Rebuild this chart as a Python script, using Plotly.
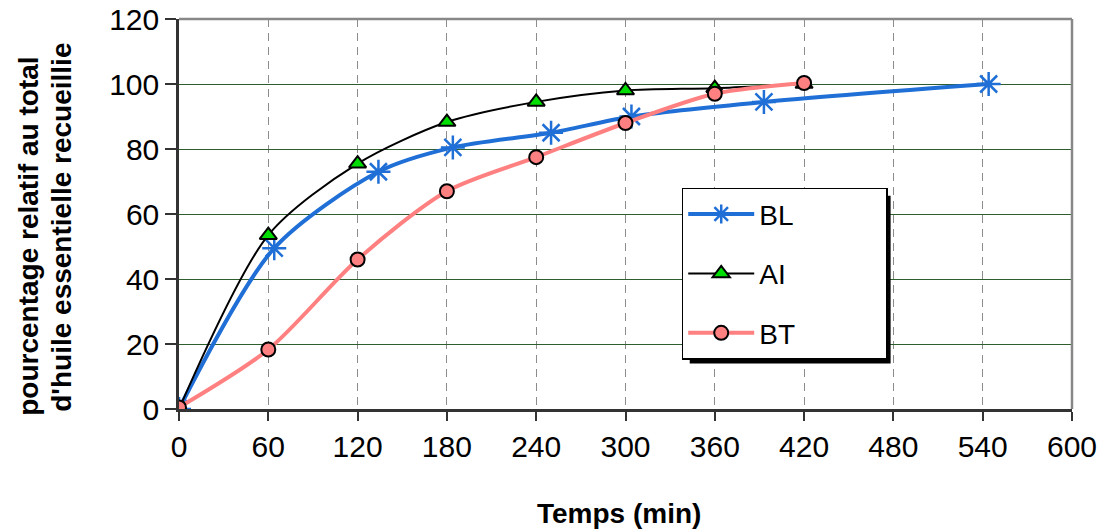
import plotly.graph_objects as go

# Data
bl_t = [0, 64, 134, 184, 250, 304, 393, 544]
bl_v = [0, 49.5, 73, 80.5, 85, 90, 94.5, 100]

ai_t = [0, 60, 120, 180, 240, 300, 360, 420]
ai_v = [0, 53.5, 75.5, 88.3, 94.5, 98, 98.7, 100]

bt_t = [0, 60, 120, 180, 240, 300, 360, 420]
bt_v = [0.5, 18.3, 46, 67, 77.5, 88, 97, 100.3]

x_ticks = [0, 60, 120, 180, 240, 300, 360, 420, 480, 540, 600]
y_ticks = [0, 20, 40, 60, 80, 100, 120]

FONT = "Liberation Sans, Arial, sans-serif"
PAD = "\u00a0" * 11

fig = go.Figure()
fig.add_trace(go.Scatter(
    x=bl_t, y=bl_v, name="BL" + PAD, mode="lines+markers",
    line=dict(color="#1F6FD6", width=4, shape="spline", smoothing=0.8),
    marker=dict(symbol="asterisk-open", size=20, color="#1F6FD6",
                line=dict(color="#1F6FD6", width=2.5)),
    legendgroup="a"))
fig.add_trace(go.Scatter(
    x=ai_t, y=ai_v, name="AI" + PAD, mode="lines+markers",
    line=dict(color="black", width=2, shape="spline", smoothing=0.8),
    marker=dict(symbol="triangle-up", size=15, color="#00DD00",
                line=dict(color="black", width=2)),
    legendgroup="b"))
fig.add_trace(go.Scatter(
    x=bt_t, y=bt_v, name="BT" + PAD, mode="lines+markers",
    line=dict(color="#FF8080", width=4, shape="spline", smoothing=0.8),
    marker=dict(symbol="circle", size=14, color="#FF8080",
                line=dict(color="black", width=2)),
    legendgroup="c"))

W, H = 1105, 530
ml, mr, mt, mb = 179, 32.5, 19, 120.5
pw, ph = W - ml - mr, H - mt - mb

def px_x(p):
    return (p - ml) / pw

def px_y(p):
    return (H - mb - p) / ph

shapes = [
    dict(type="line", xref="paper", yref="paper", x0=0, x1=1, y0=1, y1=1,
         line=dict(color="#888888", width=2.5), layer="above"),
    dict(type="line", xref="paper", yref="paper", x0=1, x1=1, y0=0, y1=1,
         line=dict(color="#888888", width=2.5), layer="above"),
    # legend shadow
    dict(type="rect", xref="paper", yref="paper",
         x0=px_x(690), x1=px_x(891), y0=px_y(364), y1=px_y(196),
         fillcolor="black", line=dict(width=0), layer="above"),
]

annotations = [
    dict(text="<b>Temps (min)</b>", xref="paper", yref="paper",
         x=px_x(619), y=px_y(514), xanchor="center", yanchor="middle",
         showarrow=False, font=dict(family=FONT, size=28, color="black")),
    dict(text="<b>pourcentage relatif au total</b>", xref="paper", yref="paper",
         x=px_x(29), y=px_y(237), xanchor="center", yanchor="middle", textangle=-90,
         showarrow=False, font=dict(family=FONT, size=28, color="black")),
    dict(text="<b>d'huile essentielle recueillie</b>", xref="paper", yref="paper",
         x=px_x(62), y=px_y(228), xanchor="center", yanchor="middle", textangle=-90,
         showarrow=False, font=dict(family=FONT, size=28, color="black")),
]

fig.update_layout(
    width=W, height=H,
    margin=dict(l=ml, r=mr, t=mt, b=mb, autoexpand=False),
    paper_bgcolor="white", plot_bgcolor="white",
    font=dict(family=FONT, color="black"),
    showlegend=True,
    legend=dict(
        x=px_x(682), y=px_y(188), xanchor="left", yanchor="top",
        bgcolor="white", bordercolor="black", borderwidth=1.5,
        font=dict(family=FONT, size=28, color="black"),
        traceorder="grouped", tracegroupgap=20, itemwidth=66,
    ),
    shapes=shapes,
    annotations=annotations,
    xaxis=dict(
        range=[0, 600], tickvals=x_ticks, ticktext=[str(v) for v in x_ticks],
        automargin=False, ticklabeloverflow="allow",
        showgrid=True, gridcolor="#8C8C8C", gridwidth=1.2, griddash="8px,6px",
        showline=True, linecolor="#333333", linewidth=2.5,
        ticks="outside", ticklen=9, tickwidth=1.5, tickcolor="#333333",
        tickfont=dict(family=FONT, size=30, color="black"),
        zeroline=False,
    ),
    yaxis=dict(
        range=[0, 120], tickvals=y_ticks, ticktext=[str(v) for v in y_ticks],
        automargin=False, ticklabeloverflow="allow",
        showgrid=True, gridcolor="#2E5E2E", gridwidth=1.2,
        showline=True, linecolor="#333333", linewidth=2.5,
        ticks="outside", ticklen=11, tickwidth=1.5, tickcolor="#333333",
        tickfont=dict(family=FONT, size=30, color="black"),
        zeroline=False,
    ),
)

fig.write_html(
    "out.html",
    config={"displayModeBar": False},
    post_script="document.body.style.margin='0';document.body.style.overflow='hidden';",
)
